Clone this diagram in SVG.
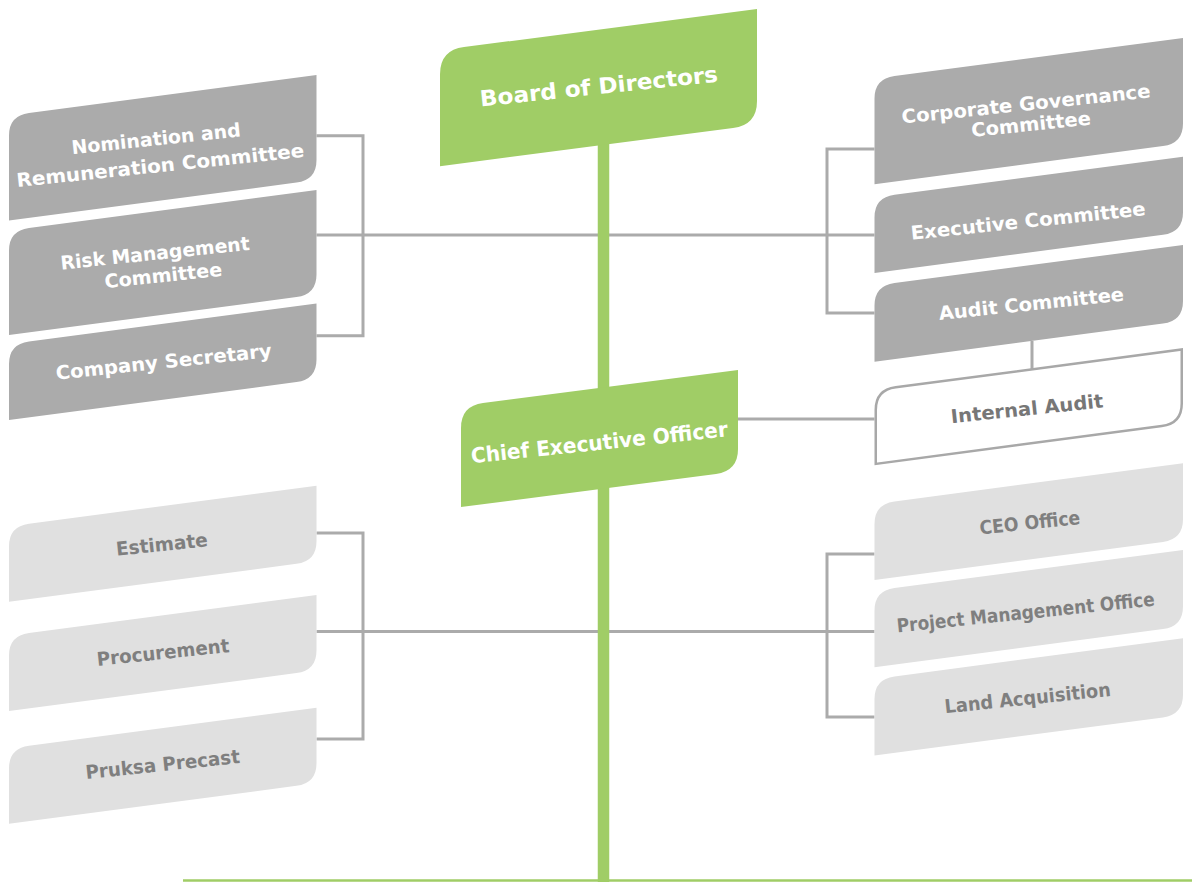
<svg xmlns="http://www.w3.org/2000/svg" width="1192" height="882" viewBox="0 0 1192 882">
<style>
.green{fill:#A0CD66}
.dark{fill:#ABABAB}
.light{fill:#E0E0E0}
.outline{fill:#FFFFFF;stroke:#A8A8A8;stroke-width:2.5}
.conn{fill:none;stroke:#ABABAB;stroke-width:3}
.trunk{fill:none;stroke:#A0CD66;stroke-width:11.5}
.base{fill:none;stroke:#A0CD66;stroke-width:2.5}
text{font-family:"DejaVu Sans","Liberation Sans",sans-serif;font-weight:bold;text-anchor:middle}
.tw{fill:#FFFFFF;font-size:19px}
.tg{fill:#7F7F7F;font-size:19px}
.ti{fill:#777777;font-size:19px}
.big{fill:#FFFFFF;font-size:22px}
.ceo{fill:#FFFFFF;font-size:21px}
</style>
<rect width="1192" height="882" fill="#FFFFFF"/>
<g id="connectors">
<path class="conn" d="M316.5,135.7 H363 V335.7 H316.5 M316.5,235 H874.5"/>
<path class="conn" d="M874.5,149 H827 V313 H874.5"/>
<path class="conn" d="M1032,341 V369"/>
<path class="conn" d="M738,419 H874.5"/>
<path class="conn" d="M316.5,533 H363 V739 H316.5 M316.5,631.5 H874.5"/>
<path class="conn" d="M874.5,554 H827 V717 H874.5"/>
<path class="trunk" d="M603.5,120 V882"/>
<path class="base" d="M183,880.5 H1192"/>
</g>
<g id="board">
<path class="green" d="M440,74.2 Q440,50.2 464,47.1 L757,9 L757,101 Q757,125 733,128.1 L440,166.2 Z"/>
<text class="big" x="599.7" y="94" textLength="239" lengthAdjust="spacingAndGlyphs" transform="rotate(-6 599.7 94)">Board of Directors</text>
</g>
<g id="ceo">
<path class="green" d="M461,428 Q461,406 483,403.1 L738,370 L738,449 Q738,471 716,473.9 L461,507 Z"/>
<text class="ceo" x="600" y="449.8" textLength="258" lengthAdjust="spacingAndGlyphs" transform="rotate(-6 600 449.8)">Chief Executive Officer</text>
</g>
<g id="nomination">
<path class="dark" d="M9,135.6 Q9,115.6 29,113 L316.5,75 L316.5,160 Q316.5,180 296.5,182.6 L9,220.6 Z"/>
<text class="tw" x="156.7" y="145.3" textLength="170" lengthAdjust="spacingAndGlyphs" transform="rotate(-6 156.7 145.3)">Nomination and</text>
<text class="tw" x="160.9" y="172" textLength="289" lengthAdjust="spacingAndGlyphs" transform="rotate(-6 160.9 172)">Remuneration Committee</text>
</g>
<g id="risk">
<path class="dark" d="M9,250.6 Q9,230.6 29,228 L316.5,190 L316.5,274.5 Q316.5,294.5 296.5,297.1 L9,335.1 Z"/>
<text class="tw" x="155.7" y="259.8" textLength="190" lengthAdjust="spacingAndGlyphs" transform="rotate(-6 155.7 259.8)">Risk Management</text>
<text class="tw" x="163.9" y="282" textLength="118" lengthAdjust="spacingAndGlyphs" transform="rotate(-6 163.9 282)">Committee</text>
</g>
<g id="secretary">
<path class="dark" d="M9,364.1 Q9,344.1 29,341.5 L316.5,303.5 L316.5,359.5 Q316.5,379.5 296.5,382.1 L9,420.1 Z"/>
<text class="tw" x="164.3" y="368.3" textLength="217" lengthAdjust="spacingAndGlyphs" transform="rotate(-6 164.3 368.3)">Company Secretary</text>
</g>
<g id="governance">
<path class="dark" d="M874.5,98.7 Q874.5,78.7 894.5,76.1 L1183,38 L1183,123.5 Q1183,143.5 1163,146.1 L874.5,184.2 Z"/>
<text class="tw" x="1026.7" y="110.5" textLength="250" lengthAdjust="spacingAndGlyphs" transform="rotate(-6 1026.7 110.5)">Corporate Governance</text>
<text class="tw" x="1031.7" y="130.8" textLength="120" lengthAdjust="spacingAndGlyphs" transform="rotate(-6 1031.7 130.8)">Committee</text>
</g>
<g id="executive">
<path class="dark" d="M874.5,217.4 Q874.5,197.4 894.5,194.8 L1183,156.7 L1183,212.2 Q1183,232.2 1163,234.8 L874.5,272.9 Z"/>
<text class="tw" x="1028.8" y="227.5" textLength="236" lengthAdjust="spacingAndGlyphs" transform="rotate(-6 1028.8 227.5)">Executive Committee</text>
</g>
<g id="audit">
<path class="dark" d="M874.5,305.7 Q874.5,285.7 894.5,283.1 L1183,245 L1183,301 Q1183,321 1163,323.6 L874.5,361.7 Z"/>
<text class="tw" x="1032" y="310.3" textLength="186" lengthAdjust="spacingAndGlyphs" transform="rotate(-6 1032 310.3)">Audit Committee</text>
</g>
<g id="internal-audit">
<path class="outline" d="M875.75,409.9 Q875.75,389.9 895.75,387.3 L1181.75,349.5 L1181.75,403.5 Q1181.75,423.5 1161.75,426.1 L875.75,463.9 Z"/>
<text class="ti" x="1027.7" y="415.3" textLength="153" lengthAdjust="spacingAndGlyphs" transform="rotate(-6 1027.7 415.3)">Internal Audit</text>
</g>
<g id="estimate">
<path class="light" d="M9,546.3 Q9,526.3 29,523.7 L316.5,485.7 L316.5,541.2 Q316.5,561.2 296.5,563.8 L9,601.8 Z"/>
<text class="tg" x="162.5" y="551" textLength="92" lengthAdjust="spacingAndGlyphs" transform="rotate(-6 162.5 551)">Estimate</text>
</g>
<g id="procurement">
<path class="light" d="M9,655.6 Q9,635.6 29,633 L316.5,595 L316.5,650.5 Q316.5,670.5 296.5,673.1 L9,711.1 Z"/>
<text class="tg" x="163.7" y="659" textLength="133" lengthAdjust="spacingAndGlyphs" transform="rotate(-6 163.7 659)">Procurement</text>
</g>
<g id="precast">
<path class="light" d="M9,768.3 Q9,748.3 29,745.7 L316.5,707.7 L316.5,763.2 Q316.5,783.2 296.5,785.8 L9,823.8 Z"/>
<text class="tg" x="163.3" y="771" textLength="155" lengthAdjust="spacingAndGlyphs" transform="rotate(-6 163.3 771)">Pruksa Precast</text>
</g>
<g id="ceo-office">
<path class="light" d="M874.5,524 Q874.5,504 894.5,501.4 L1183,463.3 L1183,519.3 Q1183,539.3 1163,541.9 L874.5,580 Z"/>
<text class="tg" x="1030.5" y="529.3" textLength="101" lengthAdjust="spacingAndGlyphs" transform="rotate(-6 1030.5 529.3)">CEO Office</text>
</g>
<g id="pmo">
<path class="light" d="M874.5,610.7 Q874.5,590.7 894.5,588.1 L1183,550 L1183,606.5 Q1183,626.5 1163,629.1 L874.5,667.2 Z"/>
<text class="tg" x="1026.3" y="619" textLength="259" lengthAdjust="spacingAndGlyphs" transform="rotate(-6 1026.3 619)">Project Management Office</text>
</g>
<g id="land">
<path class="light" d="M874.5,699 Q874.5,679 894.5,676.4 L1183,638.3 L1183,694.8 Q1183,714.8 1163,717.4 L874.5,755.5 Z"/>
<text class="tg" x="1028.3" y="704.6" textLength="167" lengthAdjust="spacingAndGlyphs" transform="rotate(-6 1028.3 704.6)">Land Acquisition</text>
</g>
</svg>
